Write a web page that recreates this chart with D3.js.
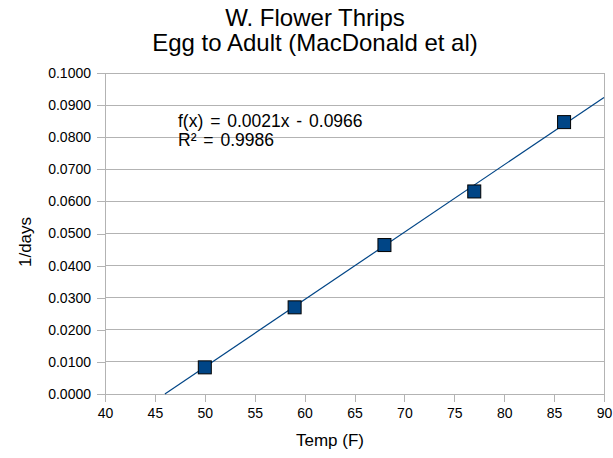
<!DOCTYPE html>
<html><head><meta charset="utf-8">
<script src="https://cdn.jsdelivr.net/npm/d3@7"></script>
<style>body{margin:0;background:#fff}text{font-family:"Liberation Sans",Arial,sans-serif;fill:#000}</style>
</head><body>
<svg id="c" width="613" height="458"></svg>
<script>
const temps = [50, 59, 68, 77, 86];
const rates = [0.0083, 0.0270, 0.0464, 0.0631, 0.0847];
const xTicks = [40, 45, 50, 55, 60, 65, 70, 75, 80, 85, 90];
const yTicks = [0, 0.01, 0.02, 0.03, 0.04, 0.05, 0.06, 0.07, 0.08, 0.09, 0.1];
const slope = 0.0021, intercept = -0.0966;
const titleLines = ["W. Flower Thrips", "Egg to Adult (MacDonald et al)"];
const eqLines = ["f(x) = 0.0021x - 0.0966", "R² = 0.9986"];

const svg = d3.select("#c");
const L = 105, R = 604, T = 73, B = 394;
const x = d3.scaleLinear().domain([40, 90]).range([L, R]);
const y = d3.scaleLinear().domain([0, 0.1]).range([B, T]);
const grey = "#b3b3b3";

// grid
svg.append("g").selectAll("line").data(yTicks).join("line")
  .attr("x1", L).attr("x2", R).attr("y1", d => y(d)).attr("y2", d => y(d))
  .attr("stroke", grey).attr("stroke-width", 1).attr("shape-rendering", "crispEdges");
// border
svg.append("rect").attr("x", L).attr("y", T).attr("width", R - L).attr("height", B - T)
  .attr("fill", "none").attr("stroke", grey).attr("shape-rendering", "crispEdges");

const xa = svg.append("g").attr("transform", `translate(0,${B})`)
  .call(d3.axisBottom(x).tickValues(xTicks).tickSize(8).tickPadding(6).tickFormat(d3.format("d")));
const ya = svg.append("g").attr("transform", `translate(${L},0)`)
  .call(d3.axisLeft(y).tickValues(yTicks).tickSize(8).tickPadding(6).tickFormat(d3.format(".4f")));
[xa, ya].forEach(a => {
  a.select(".domain").attr("stroke", grey).attr("shape-rendering", "crispEdges");
  a.selectAll(".tick line").attr("stroke", grey).attr("shape-rendering", "crispEdges");
  a.selectAll("text").attr("font-size", 14).attr("font-family", '"Liberation Sans",Arial,sans-serif').attr("fill", "#000");
});

// trend line
const x0 = -intercept / slope;
svg.append("line")
  .attr("x1", x(x0)).attr("y1", y(slope * x0 + intercept))
  .attr("x2", x(90)).attr("y2", y(slope * 90 + intercept))
  .attr("stroke", "#004586").attr("stroke-width", 1.2);

// markers
const s = 13;
svg.append("g").selectAll("rect").data(temps).join("rect")
  .attr("x", (d) => x(d) - s / 2).attr("y", (d, i) => y(rates[i]) - s / 2)
  .attr("width", s).attr("height", s)
  .attr("fill", "#004586").attr("stroke", "#000").attr("stroke-width", 1);

// title
svg.append("text").attr("x", 315).attr("y", 26).attr("text-anchor", "middle").attr("font-size", 24).text(titleLines[0]);
svg.append("text").attr("x", 315).attr("y", 51).attr("text-anchor", "middle").attr("font-size", 24).text(titleLines[1]);

// equation
eqLines.forEach((t, i) => svg.append("text").attr("x", 178).attr("y", 126.5 + i * 19.5)
  .attr("font-size", 17.5).attr("word-spacing", 2).text(t));

// axis titles
svg.append("text").attr("x", 330).attr("y", 446).attr("text-anchor", "middle").attr("font-size", 17).text("Temp (F)");
svg.append("text").attr("transform", "translate(31,242) rotate(-90)").attr("text-anchor", "middle").attr("font-size", 17).text("1/days");
</script>
</body></html>
